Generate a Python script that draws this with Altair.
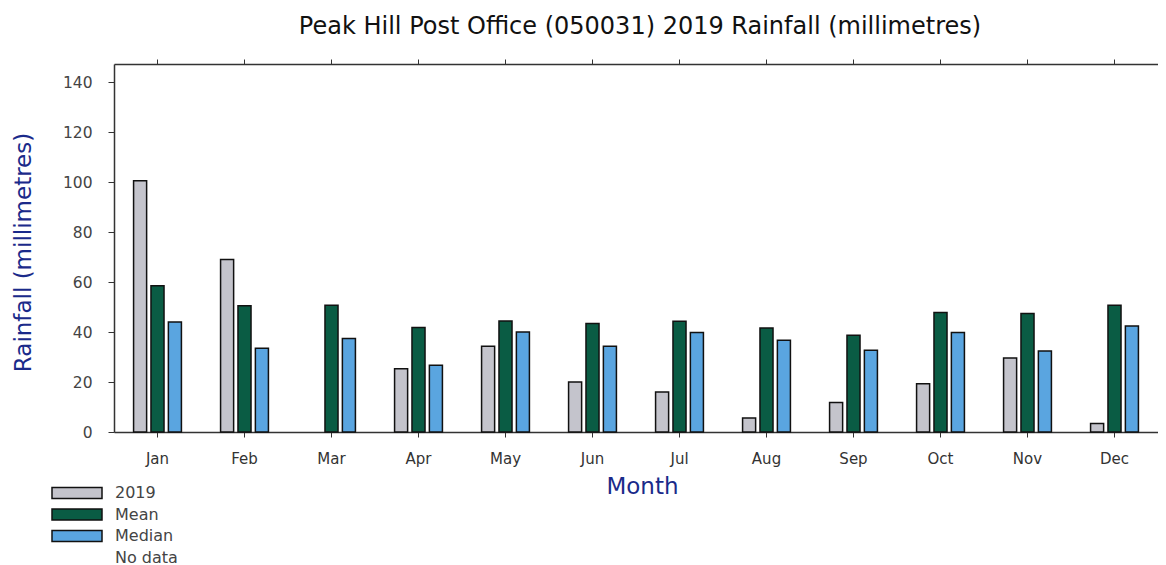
import altair as alt
import pandas as pd

months = ["Jan", "Feb", "Mar", "Apr", "May", "Jun", "Jul", "Aug", "Sep", "Oct", "Nov", "Dec"]
rain_2019 = [100.5, 69.0, None, 25.3, 34.3, 20.0, 16.0, 5.6, 11.8, 19.3, 29.6, 3.4]
rain_mean = [58.5, 50.5, 50.7, 41.8, 44.4, 43.4, 44.3, 41.6, 38.7, 47.8, 47.4, 50.7]
rain_median = [44.0, 33.5, 37.4, 26.7, 40.0, 34.3, 39.8, 36.7, 32.7, 39.8, 32.4, 42.4]
series = ["2019", "Mean", "Median", "No data"]
colors = ["#c4c4cc", "#0a5c44", "#5aa5e0", "#ffffff"]
outlines = ["#111111", "#111111", "#111111", "#ffffff"]
y_ticks = [0, 20, 40, 60, 80, 100, 120, 140]

rows = []
for i, m in enumerate(months):
    for s, vals in zip(series[:3], [rain_2019, rain_mean, rain_median]):
        rows.append({"Month": m, "Series": s, "Rain": vals[i]})
df = pd.DataFrame(rows)

font = "DejaVu Sans"
navy = "#1a2a8a"

legend = alt.Legend(title=None, orient="none", legendX=-45, legendY=421,
                    symbolType="M-4,-0.88H4V0.88H-4Z", symbolSize=156.25,
                    symbolStrokeWidth=1.5,
                    labelFont=font, labelFontSize=16, labelColor="#444444",
                    rowPadding=3.5, labelOffset=30, values=series)

bars = alt.Chart(df).mark_bar(strokeWidth=1.5).encode(
    x=alt.X("Month:N", sort=months,
            scale=alt.Scale(paddingInner=0.45, paddingOuter=0.225),
            axis=alt.Axis(title="Month", labelAngle=0, labelFont=font, labelFontSize=15,
                          labelColor="#333333", labelPadding=14, tickSize=5,
                          tickColor="#333333", domainColor="#333333", domainWidth=1.5,
                          titleFont=font, titleFontSize=23, titleFontWeight="normal",
                          titleColor=navy, titleX=528, titleY=43, titleBaseline="top")),
    xOffset=alt.XOffset("Series:N", sort=series[:3],
                        scale=alt.Scale(domain=series[:3], paddingInner=0.25, paddingOuter=0)),
    y=alt.Y("Rain:Q", scale=alt.Scale(domain=[0, 147.2], nice=False),
            axis=alt.Axis(title="Rainfall (millimetres)", values=y_ticks, grid=False,
                          labelFont=font, labelFontSize=15.5, labelColor="#444444",
                          labelPadding=16, tickSize=6, tickColor="#333333",
                          domainColor="#333333", domainWidth=1.5,
                          titleFont=font, titleFontSize=23, titleFontWeight="normal",
                          titleColor=navy, titleX=-79, titleY=188)),
    color=alt.Color("Series:N", scale=alt.Scale(domain=series, range=colors), legend=legend),
    stroke=alt.Stroke("Series:N", scale=alt.Scale(domain=series, range=outlines), legend=legend),
)

top_axis = alt.Chart(df).mark_bar(opacity=0).encode(
    x=alt.X("Month:N", sort=months,
            axis=alt.Axis(orient="top", title=None, labels=False, tickSize=5,
                          tickColor="#333333", domainColor="#333333", domainWidth=1.5)),
)

chart = alt.layer(bars, top_axis).resolve_axis(x="independent").properties(
    width=1044, height=368,
    title=alt.TitleParams("Peak Hill Post Office (050031) 2019 Rainfall (millimetres)",
                          font=font, fontSize=24, fontWeight="normal", color="#111111",
                          offset=20, dx=4),
    autosize=alt.AutoSizeParams(type="none"),
    padding={"left": 106, "top": 56, "right": 0, "bottom": 136},
).configure_view(stroke=None)

chart.save("out.html", embed_options={"renderer": "svg", "actions": False})
